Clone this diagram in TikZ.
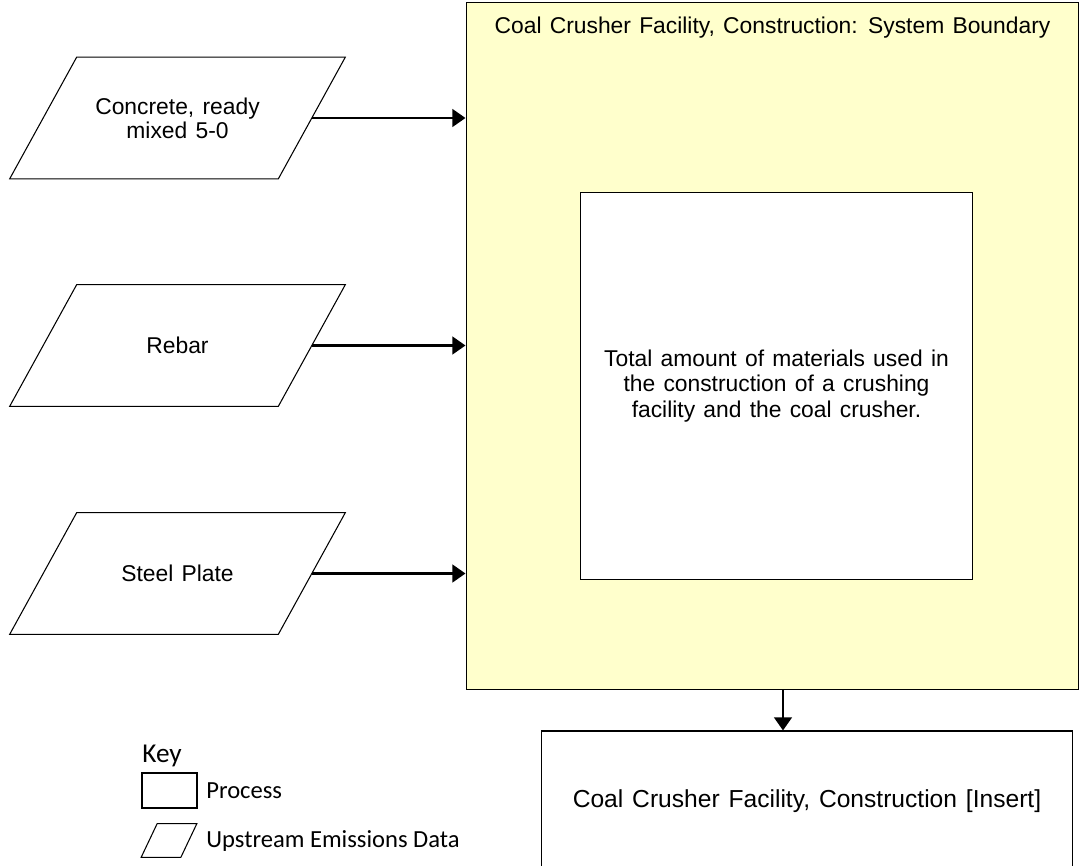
\documentclass[tikz,border=0pt]{standalone}
\usepackage{fontspec}
\setmainfont[WordSpace=1.3]{Liberation Sans}
\newfontfamily\keyfont{Carlito}
\usetikzlibrary{arrows.meta}
\definecolor{boundaryfill}{RGB}{255,255,204}

\begin{document}
\begin{tikzpicture}[x=0.02cm, y=-0.02cm,
  every node/.style={font=\fontsize{13}{13.8}\selectfont},
  process/.style={rectangle, draw, line width=0.6pt, align=center, inner sep=0pt},
  upstream/.style={rectangle, align=center, inner sep=0pt,
    minimum width=5.36cm, minimum height=2.42cm,
    append after command={\pgfextra{\draw[line width=0.6pt]
      ([xshift=-#1]\tikzlastnode.south west) -- ([xshift=-#1]\tikzlastnode.south east)
      -- ([xshift=#1]\tikzlastnode.north east) -- ([xshift=#1]\tikzlastnode.north west) -- cycle;}}},
  upstream/.default=0.67cm,
  flow/.style={line width=1.6pt, -{Triangle[length=7.5pt, width=10pt]}},
  keylabel/.style={font=\keyfont\fontsize{14}{16}\selectfont, anchor=west, inner sep=0pt}]
  \useasboundingbox (0,0) rectangle (1080,866);

  \node[draw, fill=boundaryfill, line width=0.6pt, minimum width=12.26cm, minimum height=13.76cm] (boundary) at (772.5,346) {};
  \node (boundarytitle) at (772.5,28) {Coal Crusher Facility, Construction: System Boundary};
  \node[process, fill=white, minimum width=7.86cm, minimum height=7.76cm, font=\fontsize{13}{14.6}\selectfont] (materials) at (776.5,386)
    {Total amount of materials used in\\the construction of a crushing\\facility and the coal crusher.};

  \node[upstream] (concrete) at (177.5,118) {Concrete, ready\\mixed 5-0};
  \node[upstream] (rebar) at (177.5,345.5) {Rebar};
  \node[upstream] (steel) at (177.5,573.5) {Steel Plate};

  \node[process, minimum width=10.64cm, minimum height=2.8cm, font=\fontsize{14}{15}\selectfont] (facility) at (807,801) {Coal Crusher Facility, Construction [Insert]};
  \coordinate (outlet) at (783,690);

  \draw[flow] (concrete.east) -- (concrete.east -| boundary.west);
  \draw[flow] (rebar.east) -- (rebar.east -| boundary.west);
  \draw[flow] (steel.east) -- (steel.east -| boundary.west);
  \draw[flow] (outlet) -- (outlet |- facility.north);

  \node[keylabel, font=\keyfont\fontsize{15.5}{17}\selectfont] (keytitle) at (142,756) {Key};
  \node[process, minimum width=1.1cm, minimum height=0.7cm] (keyprocess) at (169.5,790.5) {};
  \node[keylabel] (keyprocesslabel) at (206,791) {Process};
  \node[upstream=0.16cm, minimum width=0.78cm, minimum height=0.66cm] (keyupstream) at (169,840.5) {};
  \node[keylabel] (keyupstreamlabel) at (206,841) {Upstream Emissions Data};
\end{tikzpicture}
\end{document}
